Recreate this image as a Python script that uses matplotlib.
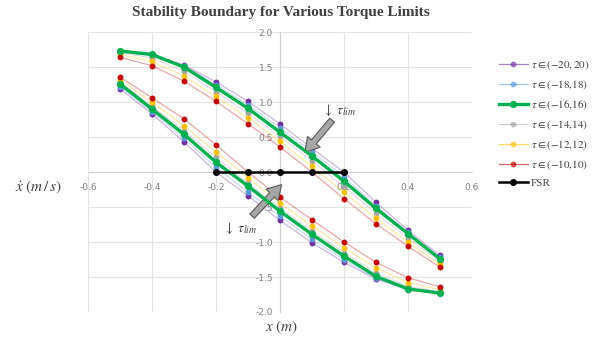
import matplotlib.pyplot as plt
import numpy as np

plt.rcParams['mathtext.fontset'] = 'stix'
plt.rcParams['font.family'] = ['Liberation Serif', 'DejaVu Serif']

# position samples (m)
x_pts = [-0.5, -0.4, -0.3, -0.2, -0.1, 0.0, 0.1, 0.2, 0.3, 0.4, 0.5]

# upper branch of the boundary for each torque limit
upper_20 = [1.72, 1.67, 1.53, 1.29, 1.01, 0.69, 0.34, 0.00, -0.43, -0.83, -1.19]
upper_18 = [1.73, 1.68, 1.52, 1.25, 0.96, 0.63, 0.29, -0.07, -0.48, -0.86, -1.22]
upper_16 = [1.73, 1.68, 1.50, 1.21, 0.91, 0.57, 0.23, -0.13, -0.52, -0.88, -1.24]
upper_14 = [1.71, 1.63, 1.44, 1.15, 0.84, 0.51, 0.16, -0.21, -0.59, -0.94, -1.28]
upper_12 = [1.68, 1.58, 1.37, 1.08, 0.77, 0.44, 0.08, -0.29, -0.66, -1.00, -1.32]
upper_10 = [1.64, 1.52, 1.30, 1.01, 0.69, 0.36, 0.00, -0.38, -0.74, -1.06, -1.36]

# lower branch
lower_20 = [1.19, 0.83, 0.43, 0.00, -0.34, -0.69, -1.01, -1.29, -1.53, -1.67, -1.72]
lower_18 = [1.22, 0.86, 0.48, 0.07, -0.29, -0.63, -0.96, -1.25, -1.52, -1.68, -1.73]
lower_16 = [1.26, 0.90, 0.54, 0.14, -0.20, -0.56, -0.89, -1.20, -1.49, -1.67, -1.73]
lower_14 = [1.28, 0.94, 0.59, 0.21, -0.16, -0.51, -0.84, -1.15, -1.44, -1.63, -1.71]
lower_12 = [1.32, 1.00, 0.66, 0.29, -0.08, -0.44, -0.77, -1.08, -1.37, -1.58, -1.68]
lower_10 = [1.36, 1.06, 0.76, 0.39, 0.00, -0.36, -0.68, -1.00, -1.29, -1.51, -1.64]

fsr_x = [-0.2, -0.1, 0.0, 0.1, 0.2]
fsr_y = [0, 0, 0, 0, 0]

labels = [r'$\tau \in (-20, 20)$', r'$\tau \in (-18{,}18)$', r'$\tau \in (-16{,}16)$',
          r'$\tau \in (-14{,}14)$', r'$\tau \in (-12{,}12)$', r'$\tau \in (-10{,}10)$']
colors = ['#7030A0', '#5B9BD5', '#00B050', '#A5A5A5', '#FFC000', '#C00000']
uppers = [upper_20, upper_18, upper_16, upper_14, upper_12, upper_10]
lowers = [lower_20, lower_18, lower_16, lower_14, lower_12, lower_10]

fig = plt.figure(figsize=(5.96, 3.43), dpi=100)
ax = fig.add_axes([0.1477, 0.0904, 0.644, 0.816])

for lab, col, up, lo in zip(labels, colors, uppers, lowers):
    xs = np.concatenate([x_pts, [np.nan], x_pts])
    ys = np.concatenate([up, [np.nan], lo])
    if col == '#00B050':
        ax.plot(xs, ys, color=col, lw=2.4, zorder=4)
        ax.plot(xs, ys, ls='none', marker='o', ms=4.2, color=col, zorder=5)
        ax.plot([], [], color=col, lw=2.4, marker='o', ms=4.2, label=lab)
    else:
        ax.plot(xs, ys, color=col, lw=0.9, alpha=0.35, zorder=2)
        ax.plot(xs, ys, ls='none', marker='o', ms=3.2, color=col, zorder=3)
        ax.plot([], [], color=col, lw=0.9, alpha=0.6, marker='o', ms=3.2,
                markerfacecolor=col, markeredgecolor=col, label=lab)

ax.plot(fsr_x, fsr_y, color='black', lw=1.8, marker='o', ms=4, label='FSR', zorder=6)

ax.set_xlim(-0.6, 0.6)
ax.set_ylim(-2.0, 2.0)
ax.set_xticks(np.arange(-0.6, 0.61, 0.2))
ax.set_yticks(np.arange(-2.0, 2.01, 0.5))
ax.set_xticklabels(['-0.6', '-0.4', '-0.2', '', '0.2', '0.4', '0.6'])
ax.set_yticklabels(['-2.0', '-1.5', '-1.0', '-0.5', '0.0', '0.5', '1.0', '1.5', '2.0'])
ax.grid(True, color='#e3e3e3', lw=0.8)
ax.set_axisbelow(True)
for s in ['top', 'right']:
    ax.spines[s].set_visible(False)
ax.spines['left'].set_position('zero')
ax.spines['bottom'].set_position('zero')
ax.spines['left'].set_color('#d0d0d0')
ax.spines['bottom'].set_color('#d0d0d0')
ax.tick_params(axis='y', length=0, labelsize=6.5, labelcolor='#7f7f7f', pad=5)
ax.tick_params(axis='x', length=0, labelsize=6.5, labelcolor='#7f7f7f', pad=8)
for t in ax.get_xticklabels() + ax.get_yticklabels():
    t.set_family(['DejaVu Sans'])

fig.text(0.472, 0.965, 'Stability Boundary for Various Torque Limits', ha='center',
         va='center', fontsize=11, fontweight='bold', color='#404040')
fig.text(0.065, 0.455, r'$\dot{x}\ (m\,/\,s)$', ha='center', va='center', fontsize=11,
         color='#404040')
fig.text(0.472, 0.045, r'$x\ (m)$', ha='center', va='center', fontsize=11, color='#404040')

arrow = dict(facecolor='#a6a6a6', edgecolor='#595959', width=4.5, headwidth=12,
             headlength=10, lw=0.8)
ax.annotate(r'$\downarrow\ \tau_{lim}$', xy=(0.08, 0.28), xytext=(0.185, 0.88),
            ha='center', va='center', fontsize=10, color='#404040')
ax.annotate('', xy=(0.078, 0.28), xytext=(0.163, 0.74), arrowprops=arrow)
ax.annotate(r'$\downarrow\ \tau_{lim}$', xy=(0, 0), xytext=(-0.125, -0.80),
            ha='center', va='center', fontsize=10, color='#404040')
ax.annotate('', xy=(0.005, -0.18), xytext=(-0.087, -0.63), arrowprops=arrow)

leg = fig.legend(loc='upper left', bbox_to_anchor=(0.82, 0.86), frameon=False,
                 fontsize=8, handlelength=2.6, labelspacing=0.55, handletextpad=0.3)
for t in leg.get_texts():
    t.set_color('#404040')

fig.savefig('out.png', dpi=100)
